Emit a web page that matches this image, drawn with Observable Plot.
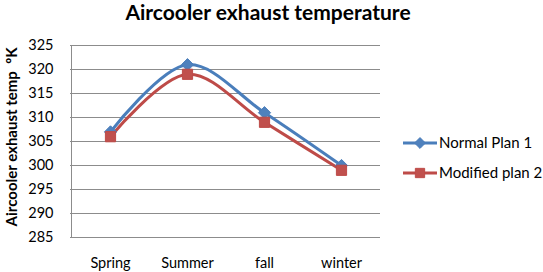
<!DOCTYPE html>
<html>
<head>
<meta charset="utf-8">
<script src="https://cdn.jsdelivr.net/npm/d3@7"></script>
<script src="https://cdn.jsdelivr.net/npm/@observablehq/plot@0.6"></script>
<style>
  html, body { margin: 0; padding: 0; background: #fff; }
  #chart { width: 543px; height: 272px; }
  svg { font-family: Lato, "Open Sans", sans-serif; }
</style>
</head>
<body>
<div id="chart"></div>
<script>
const seasons = ["Spring", "Summer", "fall", "winter"];
const normalPlan1 = [307, 321, 311, 300];
const modifiedPlan2 = [306, 319, 309, 299];
const yTicks = [285, 290, 295, 300, 305, 310, 315, 320, 325];
const seriesNames = ["Normal Plan 1", "Modified plan 2"];
const title = "Aircooler exhaust temperature";
const yLabel = "Aircooler exhaust temp  ºK";

const blue = "#4a7ebb", blueFill = "#4f81bd";
const red = "#be4b48", redFill = "#c0504d";

const rows = [];
seasons.forEach((s, i) => {
  rows.push({season: s, value: normalPlan1[i], series: seriesNames[0]});
  rows.push({season: s, value: modifiedPlan2[i], series: seriesNames[1]});
});
const normalRows = rows.filter(d => d.series === seriesNames[0]);
const modRows = rows.filter(d => d.series === seriesNames[1]);

const plot = Plot.plot({
  width: 543,
  height: 272,
  marginLeft: 70,
  marginRight: 163,
  marginTop: 45,
  marginBottom: 35,
  style: {fontFamily: "Lato, 'Open Sans', sans-serif", fontSize: "14px", color: "#000", background: "#fff"},
  x: {type: "point", domain: seasons, padding: 0.5, label: null},
  y: {domain: [285, 325], label: null},
  marks: [
    Plot.ruleY(yTicks, {stroke: "#8c8c8c", strokeWidth: 1, strokeOpacity: 1}),
    Plot.ruleX([0], {x: () => seasons[0], dx: -39, y1: 285, y2: 325, stroke: "#8c8c8c"}),
    Plot.axisY({ticks: yTicks, tickSize: 0, tickPadding: 17, label: null, fontSize: 14.5}),
    Plot.axisX({tickSize: 0, tickPadding: 20, label: null, fontSize: 14.5}),
    Plot.line(normalRows, {x: "season", y: "value", stroke: blue, strokeWidth: 3, curve: "catmull-rom"}),
    Plot.line(modRows, {x: "season", y: "value", stroke: red, strokeWidth: 3, curve: "catmull-rom"}),
    Plot.dot(normalRows, {x: "season", y: "value", symbol: "diamond2", fill: blueFill, stroke: blue, strokeWidth: 1, r: 5.5}),
    Plot.dot(modRows, {x: "season", y: "value", symbol: "square2", fill: redFill, stroke: red, strokeWidth: 1, r: 6.5})
  ]
});
document.getElementById("chart").appendChild(plot);

const svg = d3.select(plot);
svg.append("text")
  .attr("x", 268).attr("y", 20)
  .attr("text-anchor", "middle")
  .attr("font-weight", "bold")
  .attr("font-size", 21)
  .attr("fill", "#000")
  .text(title);

svg.append("text")
  .attr("transform", "translate(17,137) rotate(-90)")
  .attr("text-anchor", "middle")
  .attr("font-weight", "bold")
  .attr("font-size", 15)
  .attr("fill", "#000")
  .text(yLabel);

const legend = [
  {name: seriesNames[0], color: blue, fill: blueFill, symbol: d3.symbolDiamond2, size: 75, y: 143},
  {name: seriesNames[1], color: red, fill: redFill, symbol: d3.symbolSquare2, size: 110, y: 173}
];
legend.forEach(l => {
  const g = svg.append("g");
  g.append("line").attr("x1", 403).attr("x2", 437).attr("y1", l.y).attr("y2", l.y)
    .attr("stroke", l.color).attr("stroke-width", 3);
  g.append("path").attr("d", d3.symbol(l.symbol, l.size)())
    .attr("transform", `translate(420,${l.y})`).attr("fill", l.fill).attr("stroke", l.color);
  g.append("text").attr("x", 439).attr("y", l.y).attr("dy", "0.35em")
    .attr("text-anchor", "start")
    .attr("font-size", 15).attr("fill", "#000").text(l.name);
});
</script>
</body>
</html>
